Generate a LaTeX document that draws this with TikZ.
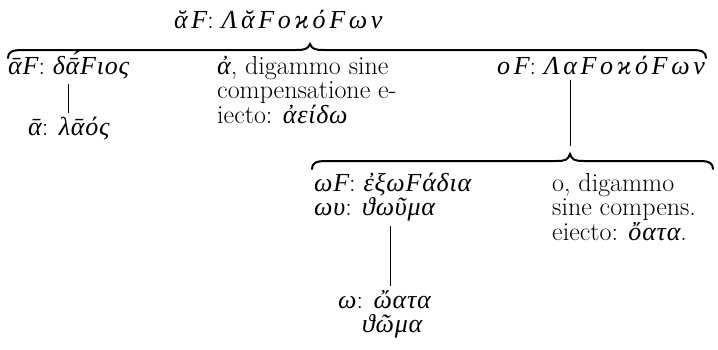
\documentclass[tikz,border=0pt]{standalone}
\usepackage{fontspec}
\newfontfamily\grk{Liberation Serif}[LetterSpace=3]
\newfontfamily\grksp{Liberation Serif}[LetterSpace=14]
\newcommand{\gk}[1]{{\grk\itshape #1}}
\newcommand{\gks}[1]{{\grksp\itshape #1}}
\tikzset{
  txt/.style={inner sep=0pt, anchor=base west, font=\fontsize{26}{24}\selectfont},
  brc/.style={line width=2pt, line cap=round},
  vline/.style={line width=0.9pt}
}
\begin{document}
\begin{tikzpicture}[x=1pt,y=-1pt]
\useasboundingbox (0,0) rectangle (718,349);
% nodes
\node[txt] (title) at (174,28) {\gks{ᾰF}: \gks{ΛᾰFοϰόFων}};
\node[txt] (daF) at (8,74) {\gk{ᾱF}: \gk{δᾱ́Fιος}};
\node[txt] (laos) at (28,135) {\gk{ᾱ}: \gk{λᾱός}};
\node[txt] (adig) at (217,74) {\begin{tabular}[t]{@{}l@{}}\gk{ἀ}, digammo sine\\ compensatione e-\\ iecto: \gk{ἀείδω}\end{tabular}};
\node[txt] (oF) at (497,74) {\gks{οF}: \gks{ΛαFοϰόFων}};
\node[txt] (omF) at (314,191) {\gk{ωF}: \gk{ἐξωFάδια}};
\node[txt] (omu) at (314,215) {\gk{ωυ}: \gk{ϑωῦμα}};
\node[txt] (odig) at (552,191) {\begin{tabular}[t]{@{}l@{}}o, digammo\\ sine compens.\\ eiecto: \gk{ὄατα}.\end{tabular}};
\node[txt] (omata) at (338,308) {\gk{ω}: \gk{ὤατα}};
\node[txt] (thoma) at (362,332) {\gk{ϑῶμα}};
% brace tips
\coordinate (tip1) at (310,44);
\coordinate (tip2) at (570,154);
\coordinate (l3) at (390,0);
% braces
\draw[brc] (8,58) .. controls (8,52) and (12,50) .. (22,50) -- (296,50)
  .. controls (305,50) and (308,49) .. (tip1)
  .. controls (312,49) and (315,50) .. (324,50) -- (692,50)
  .. controls (702,50) and (706,52) .. (706,58);
\draw[brc] (312,169) .. controls (312,163) and (316,161) .. (326,161) -- (556,161)
  .. controls (565,161) and (568,160) .. (tip2)
  .. controls (572,160) and (575,161) .. (584,161) -- (700,161)
  .. controls (709,161) and (713,163) .. (713,169);
% connectors
\draw[vline] (laos.north |- daF.south) ++(0,5) -- ([yshift=3pt]laos.north);
\draw[vline] (tip2 |- oF.south) ++(0,6) -- ([yshift=8pt]tip2);
\draw[vline] (l3 |- omu.south) ++(0,5) -- ([yshift=4pt]l3 |- omata.north);
\end{tikzpicture}
\end{document}
